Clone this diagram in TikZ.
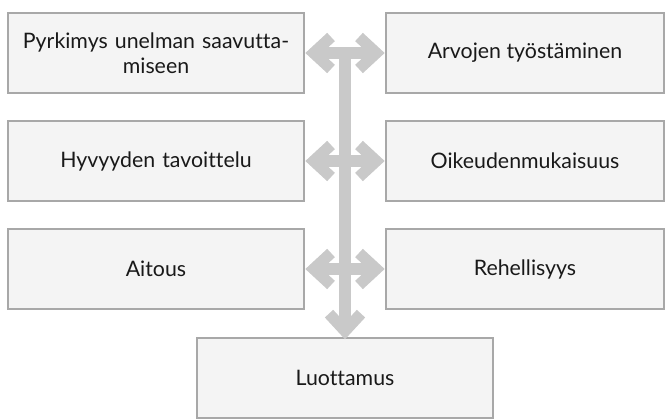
\documentclass[tikz,border=0pt]{standalone}
\usepackage{fontspec}
\setmainfont[Ligatures=NoCommon]{Lato}
\usetikzlibrary{positioning,arrows.meta,calc}
\definecolor{boxfill}{HTML}{F4F4F4}
\definecolor{boxline}{HTML}{A8A8A8}
\definecolor{arrowgray}{HTML}{C9C9C9}
\tikzset{
    valuebox/.style={draw=boxline, fill=boxfill, line width=1.1pt, outer sep=0pt,
        minimum height=60pt, align=center, text=black!90,
        font=\fontsize{16}{19}\selectfont},
    leftbox/.style={valuebox, minimum width=222pt, text width=210pt},
    rightbox/.style={valuebox, minimum width=208.5pt},
    barb/.tip={Straight Barb[length=13pt,width=24pt,line width=8.5pt]},
    chevron/.style={arrowgray, line width=9pt},
}
\begin{document}
\begin{tikzpicture}[x=0.75pt,y=0.75pt]
    \useasboundingbox (0,0) rectangle (672,419);
    % Left and right columns
    \node [leftbox] (pyrkimys) at (156,366) {Pyrkimys unelman saavutta-\\miseen};
    \node [leftbox, below=21pt of pyrkimys] (hyvyys) {Hyvyyden tavoittelu};
    \node [leftbox, below=21pt of hyvyys] (aitous) {Aitous};
    \node [rightbox, right=61.5pt of pyrkimys] (arvot) {Arvojen työstäminen};
    \node [rightbox, right=61.5pt of hyvyys] (oikeus) {Oikeudenmukaisuus};
    \node [rightbox, right=61.5pt of aitous] (rehellisyys) {Rehellisyys};
    % Bottom box
    \coordinate (top) at ($(pyrkimys.east)!0.5!(arvot.west)$);
    \path (aitous.south -| top) ++(0,-29) coordinate (bottomtop);
    \node [valuebox, minimum width=222pt, anchor=north] (luottamus) at (bottomtop) {Luottamus};
    % Arrows
    \draw [chevron, -barb] (top) -- ([yshift=-1pt]luottamus.north);
    \draw [chevron, barb-barb] ([xshift=1pt]pyrkimys.east) -- ([xshift=-1pt]arvot.west);
    \draw [chevron, barb-barb] ([xshift=1pt]hyvyys.east) -- ([xshift=-1pt]oikeus.west);
    \draw [chevron, barb-barb] ([xshift=1pt]aitous.east) -- ([xshift=-1pt]rehellisyys.west);
\end{tikzpicture}
\end{document}
